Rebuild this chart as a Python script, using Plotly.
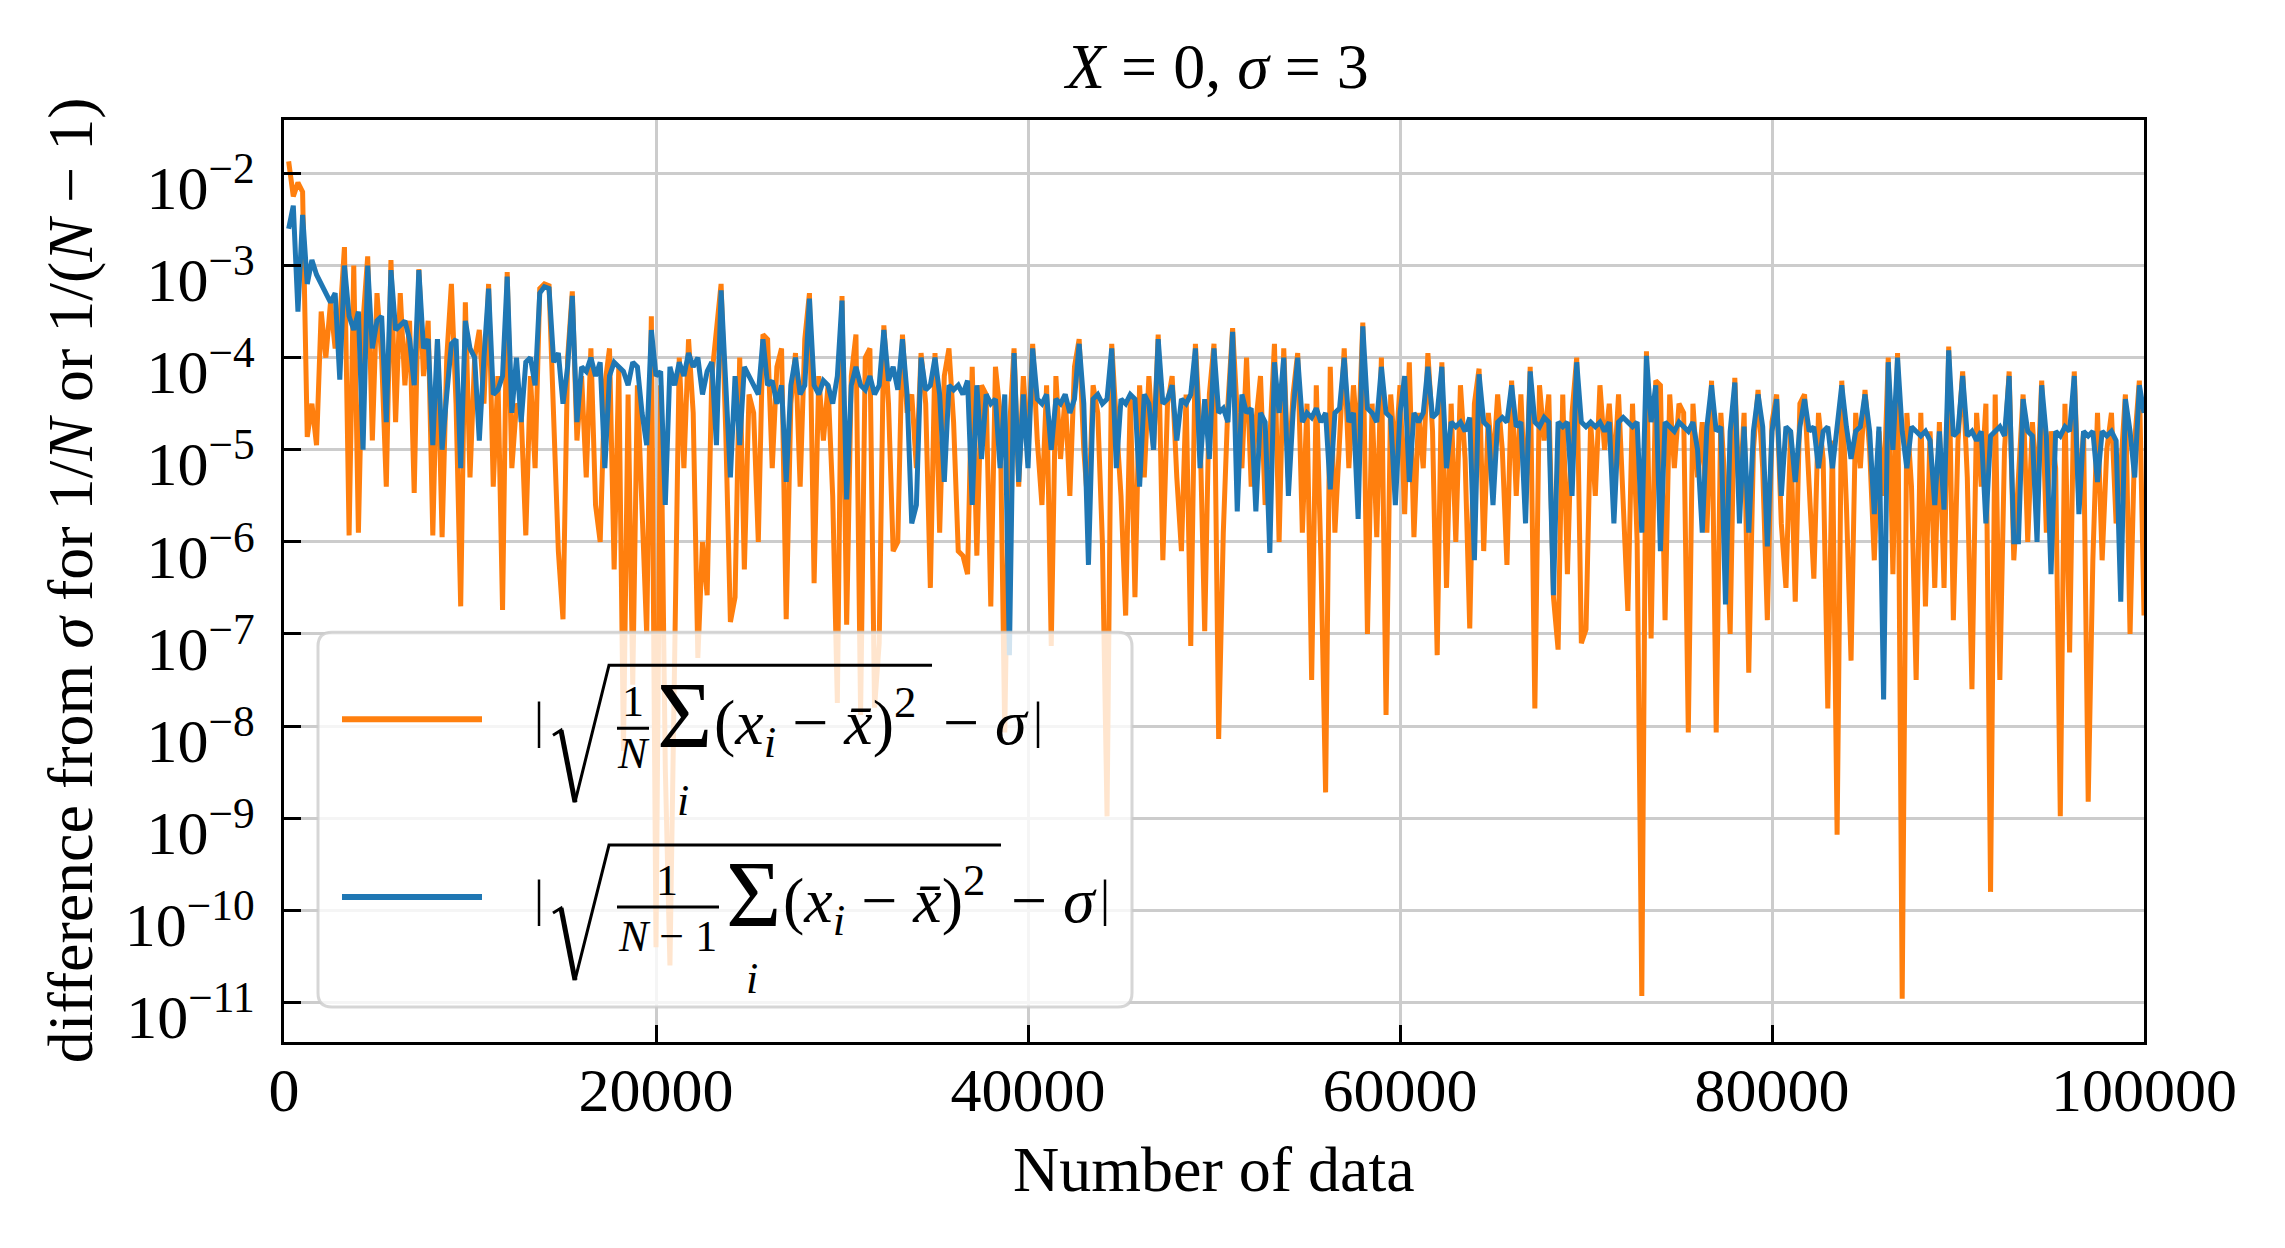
import plotly.graph_objects as go

# ---------------- data (log10 of |difference|) ----------------
# consecutive blocks of 50 values, N step 250 inside each 12500-wide block
N_STEP = 250
BLOCK = 12500

orange_log_1 = [-1.87, -2.25, -2.1, -2.2, -4.86, -4.5, -4.95, -3.5, -4.0, -3.4,
                -3.9, -3.6, -2.8, -5.93, -3.0, -5.9, -3.6, -2.9, -4.9, -3.3,
                -4.0, -5.4, -2.94, -4.7, -3.3, -4.3, -3.6, -5.47, -3.04, -4.2,
                -3.6, -5.93, -3.8, -5.95, -4.0, -3.2, -4.5, -6.7, -3.4, -5.3,
                -4.0, -3.7, -4.5, -3.2, -5.4, -4.2, -6.74, -3.07, -5.2, -4.5]
blue_log_1 = [-2.6, -2.35, -3.5, -2.45, -3.2, -2.94, -3.1, -3.2, -3.3, -3.4,
              -3.3, -4.24, -3.0, -3.55, -3.7, -3.5, -5.0, -3.0, -3.9, -3.6,
              -3.55, -4.7, -3.05, -3.7, -3.65, -3.6, -3.8, -4.3, -3.05, -3.9,
              -3.8, -4.95, -3.8, -5.0, -4.4, -3.85, -3.8, -5.2, -3.6, -3.9,
              -4.0, -4.9, -4.0, -3.25, -4.4, -4.35, -4.2, -3.12, -4.6, -4.0]

orange_log_2 = [-4.6, -5.93, -4.2, -5.2, -3.25, -3.2, -3.22, -4.5, -6.1, -6.84,
                -4.0, -3.28, -4.9, -4.2, -5.3, -3.9, -5.6, -6.0, -4.3, -3.9,
                -6.3, -4.1, -8.27, -4.4, -7.55, -4.3, -5.5, -7.0, -3.55, -10.4,
                -4.3, -8.46, -10.6, -6.84, -4.0, -5.2, -3.8, -4.6, -7.26, -6.0,
                -6.58, -4.2, -3.75, -3.2, -4.8, -6.87, -6.6, -4.0, -6.3, -4.4]
blue_log_2 = [-4.7, -4.05, -4.0, -4.3, -3.3, -3.23, -3.25, -4.05, -3.95, -4.5,
              -4.1, -3.33, -4.7, -4.1, -4.15, -4.0, -4.2, -4.05, -5.2, -4.2,
              -4.05, -4.1, -4.15, -4.3, -4.05, -4.1, -4.6, -4.95, -3.7, -4.2,
              -4.15, -5.6, -4.1, -4.3, -4.05, -4.2, -3.95, -4.1, -4.0, -4.4,
              -4.15, -4.05, -4.95, -3.27, -4.3, -5.3, -4.2, -4.95, -4.1, -4.2]

orange_log_3 = [-4.6, -6.0, -3.75, -3.8, -5.2, -4.1, -3.9, -6.84, -4.5, -3.95,
                -5.4, -3.8, -3.3, -6.45, -4.2, -4.9, -4.3, -5.5, -7.75, -3.33,
                -6.9, -4.2, -3.75, -7.88, -4.0, -3.9, -7.8, -7.1, -3.65, -4.5,
                -6.1, -6.0, -3.75, -4.6, -4.4, -5.2, -3.95, -4.5, -6.5, -3.95,
                -5.9, -4.2, -3.9, -4.7, -6.1, -6.15, -6.35, -4.1, -6.15, -4.3]
blue_log_3 = [-4.3, -4.4, -3.8, -4.3, -4.25, -4.5, -4.3, -5.35, -4.3, -4.0,
              -4.4, -4.3, -3.36, -4.3, -4.4, -4.25, -4.3, -4.5, -4.2, -3.38,
              -5.54, -4.3, -4.1, -4.3, -4.35, -4.2, -4.4, -4.3, -3.7, -4.25,
              -4.1, -4.35, -3.8, -4.4, -5.8, -5.6, -4.0, -4.35, -4.3, -4.0,
              -4.4, -5.35, -4.3, -4.35, -4.3, -4.4, -4.25, -5.6, -4.3, -5.1]

orange_log_4 = [-4.4, -6.7, -4.1, -4.6, -8.07, -4.8, -3.9, -5.4, -4.2, -5.0,
                -3.85, -4.9, -5.6, -4.3, -7.13, -4.2, -5.1, -4.4, -5.5, -4.1,
                -3.8, -5.0, -5.7, -4.3, -4.6, -6.0, -8.98, -3.85, -4.7, -5.5,
                -6.8, -4.4, -6.6, -4.3, -5.3, -4.2, -5.0, -3.75, -6.2, -4.5,
                -4.2, -5.3, -6.1, -4.4, -7.13, -3.85, -4.8, -6.97, -4.4, -3.85]
blue_log_4 = [-4.4, -4.5, -4.45, -5.2, -4.4, -7.23, -3.95, -5.35, -4.4, -5.2,
              -3.9, -4.45, -4.5, -4.4, -5.0, -4.45, -4.5, -4.4, -4.6, -4.45,
              -3.85, -4.5, -6.25, -4.45, -4.4, -4.5, -4.45, -3.9, -5.2, -4.45,
              -4.5, -4.4, -4.45, -5.4, -4.4, -4.5, -5.0, -3.8, -4.5, -4.45,
              -4.3, -4.9, -4.45, -4.5, -4.4, -3.9, -5.2, -4.45, -5.1, -3.9]

orange_log_5 = [-8.14, -5.9, -4.5, -3.68, -4.6, -5.2, -4.0, -5.4, -4.7, -4.2,
                -5.6, -4.9, -3.85, -6.0, -3.9, -5.3, -4.4, -3.95, -5.9, -4.5,
                -7.5, -4.3, -6.2, -8.72, -4.1, -5.9, -4.9, -3.9, -5.2, -4.3,
                -5.0, -3.62, -7.0, -4.5, -5.95, -4.0, -7.88, -4.4, -5.1, -4.3,
                -5.7, -4.05, -5.95, -4.6, -5.2, -3.95, -4.8, -7.23, -4.05, -6.5]
blue_log_5 = [-4.6, -4.55, -4.7, -3.72, -5.67, -4.4, -4.6, -4.55, -5.67, -4.6,
              -4.7, -6.12, -4.05, -4.6, -4.0, -5.5, -4.6, -4.0, -4.7, -4.6,
              -4.65, -4.55, -4.7, -4.6, -5.43, -4.6, -4.55, -4.0, -4.7, -4.6,
              -5.75, -3.66, -4.55, -4.6, -4.7, -4.1, -4.6, -4.65, -5.6, -4.6,
              -4.2, -5.35, -4.6, -4.7, -4.6, -4.1, -4.65, -4.6, -4.1, -5.2]

orange_log_6 = [-4.5, -6.0, -4.3, -5.1, -6.94, -4.5, -4.12, -6.1, -4.6, -5.2,
                -4.4, -5.0, -6.25, -4.25, -5.5, -4.4, -5.6, -4.1, -7.81, -4.3,
                -4.9, -4.4, -6.6, -7.17, -4.4, -6.35, -4.6, -4.0, -7.1, -6.95,
                -4.7, -5.5, -4.3, -5.0, -4.5, -5.3, -4.4, -5.6, -6.75, -4.5,
                -6.0, -10.93, -3.93, -7.05, -4.25, -4.3, -6.85, -4.4, -5.2, -4.5]
blue_log_6 = [-4.7, -4.75, -4.7, -4.8, -4.65, -6.2, -4.18, -4.7, -4.75, -5.6,
              -4.7, -4.65, -4.7, -4.3, -4.75, -4.7, -5.8, -4.15, -4.7, -4.75,
              -4.65, -4.7, -6.58, -4.7, -4.75, -4.7, -5.5, -4.05, -4.7, -4.75,
              -4.7, -4.75, -4.7, -4.8, -4.7, -5.8, -4.7, -4.65, -4.7, -4.75,
              -4.7, -5.9, -3.98, -4.7, -4.3, -6.1, -4.7, -4.75, -4.8, -4.7]

orange_log_7 = [-4.6, -8.07, -4.5, -5.3, -4.7, -5.9, -4.25, -8.07, -4.6, -5.5,
                -7.0, -4.22, -5.6, -4.6, -7.42, -5.0, -4.35, -5.2, -6.85, -4.7,
                -4.4, -5.8, -6.5, -4.8, -6.65, -4.5, -4.4, -5.4, -6.4, -4.6,
                -5.1, -7.81, -4.9, -9.18, -4.25, -5.6, -7.29, -4.6, -5.2, -4.35,
                -5.0, -6.2, -4.8, -5.5, -4.0, -6.35, -3.95, -10.96, -4.6, -5.4]
blue_log_7 = [-4.75, -4.8, -4.7, -5.0, -5.9, -4.75, -4.3, -4.8, -4.75, -6.68,
              -4.8, -4.27, -5.8, -4.75, -5.9, -4.8, -4.4, -4.75, -6.05, -4.8,
              -4.45, -5.5, -4.75, -4.8, -5.35, -4.75, -4.45, -4.8, -4.75, -5.2,
              -4.8, -4.75, -5.2, -4.8, -4.3, -4.75, -5.1, -4.8, -4.75, -4.4,
              -4.8, -5.7, -4.75, -7.71, -4.05, -5.0, -4.0, -4.8, -5.2, -4.75]

orange_log_8 = [-7.5, -4.6, -6.7, -4.8, -6.5, -4.7, -6.5, -3.88, -6.85, -4.9,
                -4.15, -5.3, -7.6, -4.6, -5.4, -4.5, -9.8, -4.4, -7.5, -5.0,
                -4.15, -6.2, -5.3, -4.4, -6.0, -4.7, -5.5, -4.25, -5.9, -4.8,
                -5.2, -8.98, -4.5, -7.2, -4.15, -5.6, -4.8, -8.82, -6.2, -4.6,
                -6.2, -5.0, -4.6, -5.8, -5.2, -4.4, -7.0, -4.9, -4.25, -6.8]
blue_log_8 = [-4.8, -4.85, -4.8, -4.9, -5.6, -4.8, -5.65, -3.92, -4.85, -4.8,
              -4.2, -4.85, -4.8, -4.9, -4.8, -5.8, -4.85, -4.8, -4.75, -4.85,
              -4.2, -6.0, -6.0, -4.45, -4.8, -4.85, -6.0, -4.3, -4.85, -6.35,
              -4.8, -4.85, -4.75, -4.8, -4.2, -5.7, -4.8, -4.85, -4.8, -5.35,
              -4.8, -4.85, -4.8, -4.9, -6.65, -4.45, -4.8, -5.3, -4.3, -4.6]

orange_blocks = [orange_log_1, orange_log_2, orange_log_3, orange_log_4,
                 orange_log_5, orange_log_6, orange_log_7, orange_log_8]
blue_blocks = [blue_log_1, blue_log_2, blue_log_3, blue_log_4,
               blue_log_5, blue_log_6, blue_log_7, blue_log_8]

x_tick_vals = [0, 20000, 40000, 60000, 80000, 100000]
x_tick_text = ["0", "20000", "40000", "60000", "80000", "100000"]
y_exponents = [-11, -10, -9, -8, -7, -6, -5, -4, -3, -2]


def expand(blocks):
    xs, ys = [], []
    for k, blk in enumerate(blocks):
        for j, e in enumerate(blk):
            xs.append(BLOCK * k + N_STEP * (j + 1))
            ys.append(10 ** e)
    return xs, ys


xo, yo = expand(orange_blocks)
xb, yb = expand(blue_blocks)

ORANGE = "#ff7f0e"
BLUE = "#1f77b4"
SERIF = "Liberation Serif, Times New Roman, serif"

# ---------------- layout geometry (pixels in the 2285x1248 page) ----------------
W, H = 2285, 1248
L, R, T, B = 284, 2144, 119.5, 1042


def pp(x, y):
    return (x - L) / (R - L), (B - y) / (B - T)


def path_px(points, close=False):
    s = ""
    for i, (x, y) in enumerate(points):
        px_, py_ = pp(x, y)
        s += ("M" if i == 0 else "L") + f"{px_:.5f},{py_:.5f} "
    if close:
        s += "Z"
    return s


def rounded_rect(x0, y0, x1, y1, r):
    def q(x, y):
        a, b = pp(x, y)
        return f"{a:.5f},{b:.5f}"
    return (f"M{q(x0 + r, y0)} L{q(x1 - r, y0)} Q{q(x1, y0)} {q(x1, y0 + r)} "
            f"L{q(x1, y1 - r)} Q{q(x1, y1)} {q(x1 - r, y1)} L{q(x0 + r, y1)} "
            f"Q{q(x0, y1)} {q(x0, y1 - r)} L{q(x0, y0 + r)} Q{q(x0, y0)} {q(x0 + r, y0)} Z")


def ann(text, x, y, size, xanchor="center", yanchor="middle", angle=0):
    a, b = pp(x, y)
    return dict(text=text, x=a, y=b, xref="paper", yref="paper", showarrow=False,
                xanchor=xanchor, yanchor=yanchor, textangle=angle, borderpad=0,
                font=dict(family=SERIF, size=size, color="black"))


fig = go.Figure()
fig.add_trace(go.Scatter(x=xo, y=yo, mode="lines", name="1/N",
                         line=dict(color=ORANGE, width=5), showlegend=False))
fig.add_trace(go.Scatter(x=xb, y=yb, mode="lines", name="1/(N-1)",
                         line=dict(color=BLUE, width=5), showlegend=False))

shapes = []
# legend box
shapes.append(dict(type="path", xref="paper", yref="paper", layer="above",
                   path=rounded_rect(318, 632, 1132, 1007, 14),
                   fillcolor="rgba(255,255,255,0.8)",
                   line=dict(color="rgba(204,204,204,0.8)", width=3)))
# legend handles
for (y, c) in [(719, ORANGE), (897, BLUE)]:
    shapes.append(dict(type="path", xref="paper", yref="paper", layer="above",
                       path=path_px([(342, y), (482, y)]),
                       line=dict(color=c, width=6)))
# radicals and fraction bars
for (ytop, ybot, ystart, xend, bar_x1, bar_y) in [(665, 802, 735, 932, 649, 728),
                                                   (845, 980, 913, 1001, 719, 907)]:
    shapes.append(dict(type="path", xref="paper", yref="paper", layer="above",
                       path=path_px([(553, ystart), (561, ystart - 5), (575, ybot),
                                     (609, ytop), (xend, ytop)]),
                       line=dict(color="black", width=3)))
    shapes.append(dict(type="path", xref="paper", yref="paper", layer="above",
                       path=path_px([(561, ystart - 5), (575, ybot)]),
                       line=dict(color="black", width=5)))
    shapes.append(dict(type="path", xref="paper", yref="paper", layer="above",
                       path=path_px([(617, bar_y), (bar_x1, bar_y)]),
                       line=dict(color="black", width=3)))

annotations = []
# orange entry
annotations += [
    ann("|", 539, 720, 50),
    ann("1", 633, 701, 44),
    ann("<i>N</i>", 633, 753, 44),
    ann("Σ", 684, 716, 95),
    ann("<i>i</i>", 683, 800, 44),
    ann("(<i>x</i><sub><i>i</i></sub> − <i>x\u0304</i>)<sup>2</sup>", 713, 722, 64, xanchor="left"),
    ann("− <i>σ</i>", 942, 722, 64, xanchor="left"),
    ann("|", 1038, 720, 50),
]
# blue entry
annotations += [
    ann("|", 539, 898, 50),
    ann("1", 667, 880, 44),
    ann("<i>N</i> − 1", 667, 936, 44),
    ann("Σ", 753, 895, 95),
    ann("<i>i</i>", 752, 978, 44),
    ann("(<i>x</i><sub><i>i</i></sub> − <i>x\u0304</i>)<sup>2</sup>", 782, 900, 64, xanchor="left"),
    ann("− <i>σ</i>", 1010, 900, 64, xanchor="left"),
    ann("|", 1105, 898, 50),
]
# axis titles and title
annotations += [
    ann("Number of data", 1214, 1170, 64),
    ann("difference from <i>σ</i> for 1/<i>N</i> or 1/(<i>N</i> − 1)", 70, 580, 64, angle=-90),
    ann("<i>X</i> = 0, <i>σ</i> = 3", 1216, 66, 64),
]

fig.update_layout(
    width=W, height=H,
    margin=dict(l=L, r=W - R, t=T, b=H - B, pad=0),
    paper_bgcolor="white", plot_bgcolor="white",
    font=dict(family=SERIF, size=62, color="black"),
    shapes=shapes, annotations=annotations, showlegend=False,
)
fig.update_xaxes(
    range=[0, 100000], tickvals=x_tick_vals, ticktext=x_tick_text,
    showgrid=True, gridcolor="#cccccc", gridwidth=3,
    showline=True, linecolor="black", linewidth=3, mirror=True,
    ticks="inside", ticklen=17, tickwidth=3, tickcolor="black",
    ticklabelstandoff=-8, zeroline=False,
    tickfont=dict(family=SERIF, size=62, color="black"),
)
fig.update_yaxes(
    type="log", range=[-11.43, -1.42],
    tickvals=[10 ** e for e in y_exponents],
    ticktext=[f"10<sup>−{-e}</sup>" for e in y_exponents],
    showgrid=True, gridcolor="#cccccc", gridwidth=3,
    showline=True, linecolor="black", linewidth=3, mirror=True,
    ticks="inside", ticklen=17, tickwidth=3, tickcolor="black",
    ticklabelstandoff=14, ticklabelshift=14, zeroline=False,
    tickfont=dict(family=SERIF, size=62, color="black"),
)

fig.write_html("out.html", config={"displayModeBar": False},
               post_script="document.body.style.margin='0';")
